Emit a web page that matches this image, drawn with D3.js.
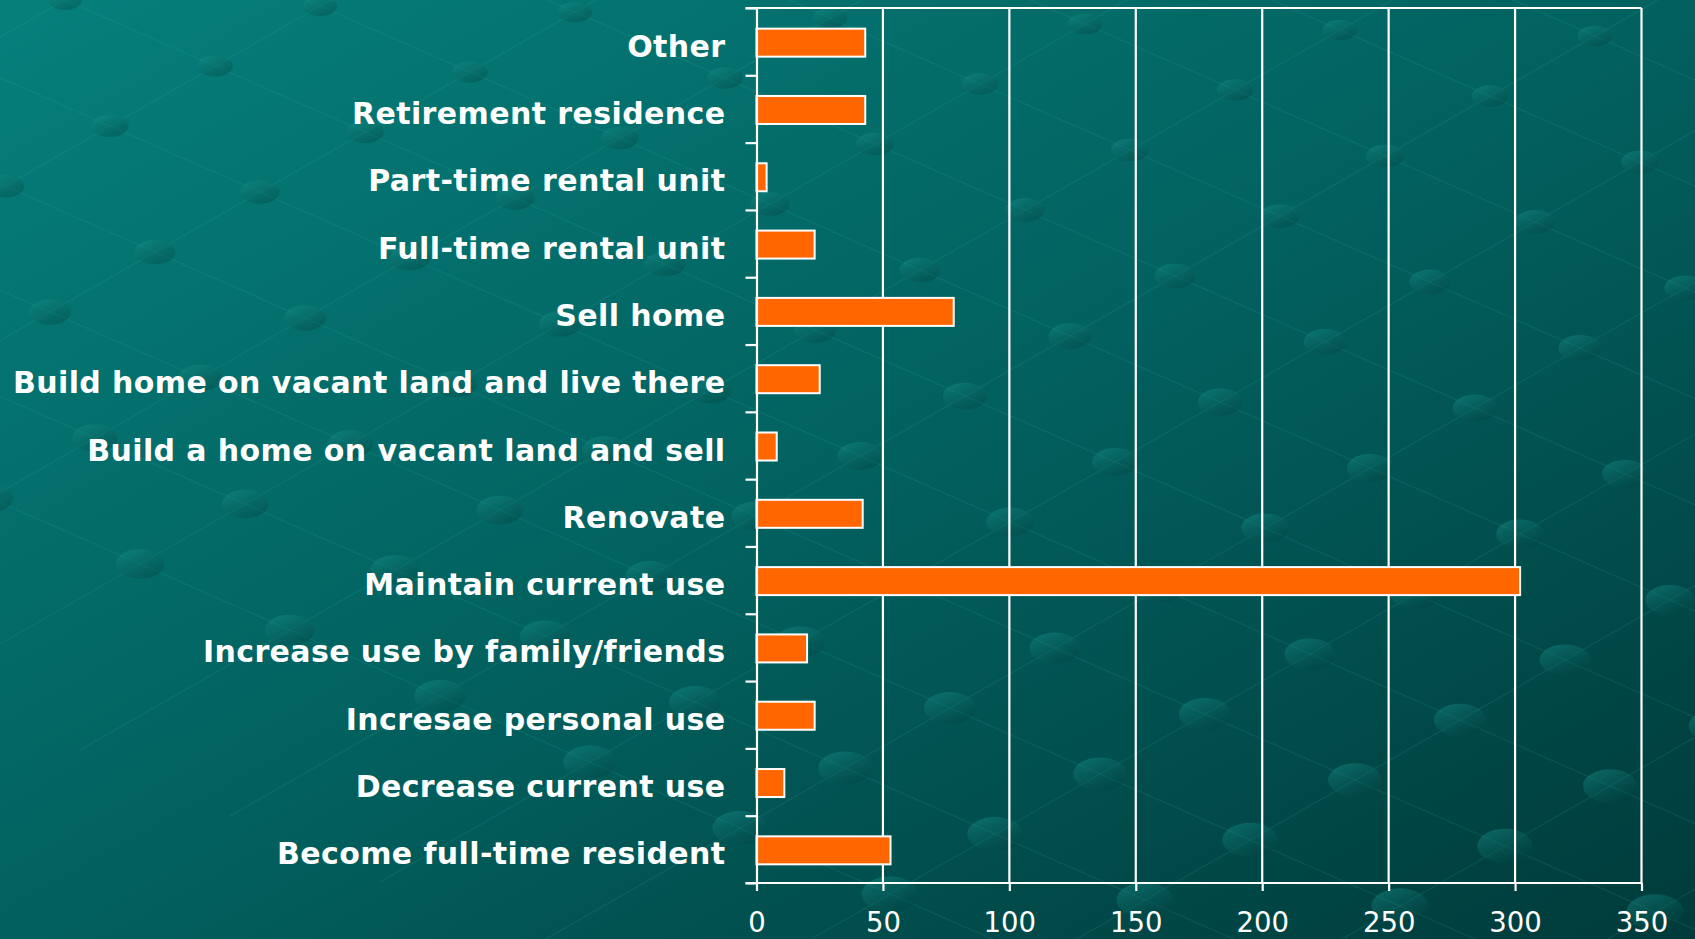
<!DOCTYPE html>
<html>
  <head>
    <meta charset='utf-8' />
    <title>Future plans for the property</title>
    <style>
      body {
        margin: 0;
        overflow: hidden;
      }
      #chart {
        display: block;
      }
      .label {
        fill: white;
        font-family: "DejaVu Sans", Verdana, sans-serif;
        font-weight: bold;
        font-size: 30px;
        letter-spacing: 0.4px;
      }
      .tick text {
        fill: white;
        font-family: "DejaVu Sans", Verdana, sans-serif;
        font-size: 27.5px;
      }
      .domain, .tick line, .grid {
        stroke: white;
        stroke-width: 2.2;
      }
      .bar {
        fill: #ff6600;
        stroke: white;
        stroke-width: 2;
      }
      .deco-line {
        stroke: #3fb3ac;
        stroke-opacity: 0.13;
        stroke-width: 1.5;
      }
      .deco-dot {
        fill: url(#dotFill);
      }
    </style>
  </head>

<body>
  <svg id="chart" width="1695" height="939"></svg>

  <script src="https://d3js.org/d3.v7.min.js"></script>
  <script>
    // categories listed bottom to top, as in the picture
    var categories = [
      "Become full-time resident",
      "Decrease current use",
      "Incresae personal use",
      "Increase use by family/friends",
      "Maintain current use",
      "Renovate",
      "Build a home on vacant land and sell",
      "Build home on vacant land and live there",
      "Sell home",
      "Full-time rental unit",
      "Part-time rental unit",
      "Retirement residence",
      "Other"
    ];
    var values = [53, 11, 23, 20, 302, 42, 8, 25, 78, 23, 4, 43, 43];
    var xTicks = [0, 50, 100, 150, 200, 250, 300, 350];

    const w = 1695;
    const h = 939;
    const plotLeft = 756.5;
    const plotRight = 1641.5;
    const plotTop = 8;
    const plotBottom = 883;

    var svg = d3.select("#chart");

    // background: teal gradient
    var defs = svg.append("defs");
    var grad = defs.append("linearGradient")
      .attr("id", "bg")
      .attr("x1", "0").attr("y1", "0")
      .attr("x2", "1").attr("y2", "1");
    grad.append("stop").attr("offset", "0").attr("stop-color", "#067f7b");
    grad.append("stop").attr("offset", "0.5").attr("stop-color", "#02615f");
    grad.append("stop").attr("offset", "1").attr("stop-color", "#003a3a");

    var dotGrad = defs.append("linearGradient")
      .attr("id", "dotFill")
      .attr("x1", "0").attr("y1", "0")
      .attr("x2", "0.7").attr("y2", "1");
    dotGrad.append("stop").attr("offset", "0").attr("stop-color", "#1a9c95").attr("stop-opacity", 0.45);
    dotGrad.append("stop").attr("offset", "1").attr("stop-color", "#013e3d").attr("stop-opacity", 0.35);

    svg.append("rect").attr("width", w).attr("height", h).attr("fill", "url(#bg)");

    // decorative lattice of faint lines and dots
    var u = [150, 66];   // down-right step
    var v = [105, -60];  // up-right step
    var lattice = d3.cross(d3.range(-12, 14), d3.range(-4, 24))
      .map((p) => [p[0] * u[0] + p[1] * v[0] - 40, p[0] * u[1] + p[1] * v[1] + 60])
      .filter((p) => p[0] > -60 && p[0] < w + 60 && p[1] > -40 && p[1] < h + 40);

    var deco = svg.append("g");
    deco.selectAll(".deco-line.u")
      .data(d3.range(-4, 24))
      .enter()
      .append("line")
      .attr("class", "deco-line u")
      .attr("x1", (j) => -14 * u[0] + j * v[0] - 40)
      .attr("y1", (j) => -14 * u[1] + j * v[1] + 60)
      .attr("x2", (j) => 16 * u[0] + j * v[0] - 40)
      .attr("y2", (j) => 16 * u[1] + j * v[1] + 60);
    deco.selectAll(".deco-line.v")
      .data(d3.range(-12, 14))
      .enter()
      .append("line")
      .attr("class", "deco-line v")
      .attr("x1", (i) => i * u[0] - 6 * v[0] - 40)
      .attr("y1", (i) => i * u[1] - 6 * v[1] + 60)
      .attr("x2", (i) => i * u[0] + 26 * v[0] - 40)
      .attr("y2", (i) => i * u[1] + 26 * v[1] + 60);
    deco.selectAll("ellipse")
      .data(lattice)
      .enter()
      .append("ellipse")
      .attr("class", "deco-dot")
      .attr("cx", (p) => p[0])
      .attr("cy", (p) => p[1])
      .attr("rx", (p) => 17 + 12 * p[1] / h)
      .attr("ry", (p) => 10 + 8 * p[1] / h);

    var xScale = d3.scaleLinear()
      .domain([0, 350])
      .range([plotLeft, plotRight]);

    var yScale = d3.scaleBand()
      .domain(categories.slice().reverse())
      .range([plotTop, plotBottom])
      .paddingInner(0.584)
      .paddingOuter(0.292);

    // vertical gridlines (the 350 line closes the frame on the right)
    svg.append("g").selectAll("line")
      .data(xTicks.slice(1))
      .enter()
      .append("line")
      .attr("class", "grid")
      .attr("x1", (d) => xScale(d))
      .attr("x2", (d) => xScale(d))
      .attr("y1", plotTop)
      .attr("y2", plotBottom);

    // top frame line
    svg.append("line")
      .attr("class", "grid")
      .attr("x1", plotLeft - 11)
      .attr("x2", plotRight)
      .attr("y1", plotTop)
      .attr("y2", plotTop);

    // bars
    svg.append("g").selectAll("rect")
      .data(values)
      .enter()
      .append("rect")
      .attr("class", "bar")
      .attr("x", xScale(0))
      .attr("y", (d, i) => yScale(categories[i]) + 1)
      .attr("width", (d) => xScale(d) - xScale(0))
      .attr("height", yScale.bandwidth());

    // category labels
    svg.append("g").selectAll("text")
      .data(categories)
      .enter()
      .append("text")
      .attr("class", "label")
      .attr("x", plotLeft - 31)
      .attr("y", (d) => yScale(d) + yScale.bandwidth() / 2 + 15)
      .attr("text-anchor", "end")
      .text((d) => d);

    // x axis
    var xAxis = d3.axisBottom(xScale)
      .tickValues(xTicks)
      .tickSize(8)
      .tickSizeOuter(0)
      .tickFormat(d3.format("d"));

    var gx = svg.append("g")
      .attr("id", "x-axis")
      .attr("transform", "translate(0," + plotBottom + ")")
      .call(xAxis);
    gx.selectAll(".tick text").attr("y", 49).attr("dy", 0);
    gx.select(".domain").attr("d", "M" + (plotLeft - 11) + ",0H" + plotRight);

    // y axis: ticks sit between the categories
    var sepScale = d3.scaleLinear()
      .domain([0, categories.length])
      .range([plotBottom, plotTop]);

    var yAxis = d3.axisLeft(sepScale)
      .tickValues(d3.range(categories.length + 1))
      .tickSize(11)
      .tickSizeOuter(0)
      .tickFormat("");

    svg.append("g")
      .attr("id", "y-axis")
      .attr("transform", "translate(" + plotLeft + ",0)")
      .call(yAxis);
  </script>
</body>
</html>
